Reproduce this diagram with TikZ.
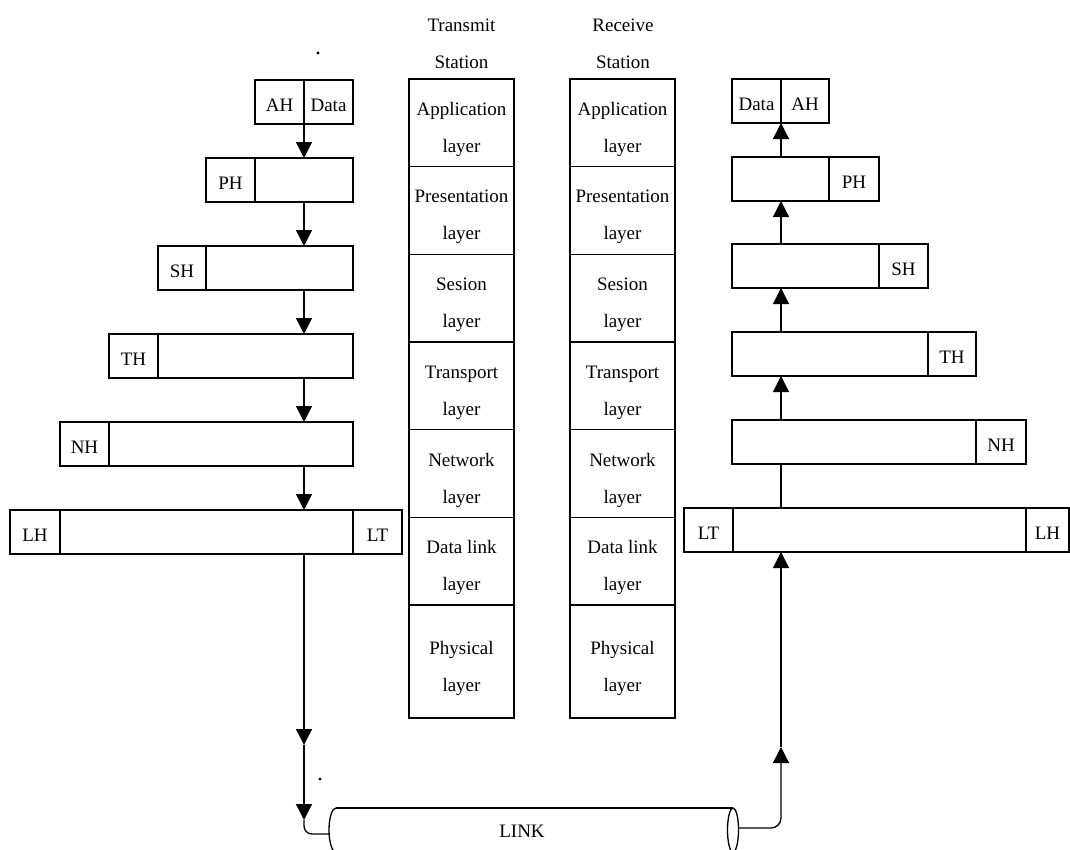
\documentclass[tikz,border=0pt]{standalone}
\usepackage{fontspec}
\setmainfont{Liberation Serif}
\usetikzlibrary{arrows.meta}
\begin{document}
\begin{tikzpicture}[x=1pt,y=-1pt, line width=1.3pt,
  txt/.style={font=\fontsize{19}{37}\selectfont},
  cellbox/.style={draw, txt, anchor=north west, minimum height=44pt, inner sep=0pt, outer sep=0pt, text height=19.6pt, text depth=0pt},
  layerbox/.style={draw, anchor=north west, inner sep=0pt, outer sep=0pt, minimum width=105pt},
  laytext/.style={txt, align=center, inner sep=0pt, yshift=-6.5pt},
  hdr/.style={txt, align=center, inner sep=0pt},
  arr/.style={-{Triangle[width=16pt,length=16pt]}}]
\useasboundingbox (0,0) rectangle (1070,849);
\clip (0,0) rectangle (1070,849);

% ---------- left (transmit) packets ----------
\node[cellbox, minimum width=49pt] (aL1) at (255,80) {AH};
\node[cellbox, minimum width=49pt] (aL2) at (304,80) {Data};
\node[cellbox, minimum width=49pt] (pL1) at (206,158) {PH};
\node[cellbox, minimum width=98pt] (pL2) at (255,158) {};
\node[cellbox, minimum width=48pt] (sL1) at (158,246) {SH};
\node[cellbox, minimum width=147pt] (sL2) at (206,246) {};
\node[cellbox, minimum width=49pt] (tL1) at (109,334) {TH};
\node[cellbox, minimum width=195pt] (tL2) at (158,334) {};
\node[cellbox, minimum width=49pt] (nL1) at (60,422) {NH};
\node[cellbox, minimum width=244pt] (nL2) at (109,422) {};
\node[cellbox, minimum width=50pt] (lL1) at (10,510) {LH};
\node[cellbox, minimum width=293pt] (lL2) at (60,510) {};
\node[cellbox, minimum width=49pt] (lL3) at (353,510) {LT};

% ---------- right (receive) packets ----------
\node[cellbox, minimum width=49pt] (aR1) at (732,79) {Data};
\node[cellbox, minimum width=48pt] (aR2) at (781,79) {AH};
\node[cellbox, minimum width=97pt] (pR1) at (732,157) {};
\node[cellbox, minimum width=50pt] (pR2) at (829,157) {PH};
\node[cellbox, minimum width=147pt] (sR1) at (732,244) {};
\node[cellbox, minimum width=49pt] (sR2) at (879,244) {SH};
\node[cellbox, minimum width=196pt] (tR1) at (732,332) {};
\node[cellbox, minimum width=48pt] (tR2) at (928,332) {TH};
\node[cellbox, minimum width=244pt] (nR1) at (732,420) {};
\node[cellbox, minimum width=50pt] (nR2) at (976,420) {NH};
\node[cellbox, minimum width=49pt] (lR1) at (684,508) {LT};
\node[cellbox, minimum width=293pt] (lR2) at (733,508) {};
\node[cellbox, minimum width=43pt] (lR3) at (1026,508) {LH};

% ---------- station stacks ----------
\node[hdr] (hT) at (461.5,44) {Transmit\\Station};
\node[hdr] (hR) at (623,44) {Receive\\Station};

\foreach \x/\s in {409/T, 570/R}{
  \node[layerbox, minimum height=87.7pt] (app\s) at (\x,79) {};
  \node[laytext] at (app\s.center) {Application\\layer};
  \node[layerbox, minimum height=87.7pt] (pre\s) at (\x,166.7) {};
  \node[laytext] at (pre\s.center) {Presentation\\layer};
  \node[layerbox, minimum height=87.7pt] (ses\s) at (\x,254.3) {};
  \node[laytext] at (ses\s.center) {Sesion\\layer};
  \node[layerbox, minimum height=87.7pt] (tra\s) at (\x,342) {};
  \node[laytext] at (tra\s.center) {Transport\\layer};
  \node[layerbox, minimum height=87.7pt] (net\s) at (\x,429.7) {};
  \node[laytext] at (net\s.center) {Network\\layer};
  \node[layerbox, minimum height=87.7pt] (dat\s) at (\x,517.3) {};
  \node[laytext] at (dat\s.center) {Data link\\layer};
  \node[layerbox, minimum height=113pt] (phy\s) at (\x,605) {};
  \node[laytext] at (phy\s.center) {Physical\\layer};
}

% ---------- link cylinder ----------
\draw (336,808) -- (733,808);
\draw (336,852) -- (733,852);
\draw (336,808) arc[start angle=90, end angle=270, x radius=7pt, y radius=22pt];
\draw (733,830) ellipse[x radius=5.5pt, y radius=22pt];
\node[txt, inner sep=0pt] (link) at (522,831) {LINK};
\coordinate (cylL) at (329.2,834);
\coordinate (cylR) at (738.5,828);

% ---------- connector axes ----------
\coordinate (xl) at (304,0);
\coordinate (xr) at (781,0);
\coordinate (m1) at (304,745);
\coordinate (m2) at (304,820);
\coordinate (m3) at (781,747);

% left chain (down)
\draw[arr] (xl |- aL1.south) -- (xl |- pL2.north);
\draw[arr] (xl |- pL2.south) -- (xl |- sL2.north);
\draw[arr] (xl |- sL2.south) -- (xl |- tL2.north);
\draw[arr] (xl |- tL2.south) -- (xl |- nL2.north);
\draw[arr] (xl |- nL2.south) -- (xl |- lL2.north);
\draw[arr] (xl |- lL2.south) -- (m1);
\draw[arr] (m1) -- (m2);
\draw[rounded corners=8pt] (m2) -- (xl |- cylL) -- (cylL);

% right chain (up)
\draw[arr, rounded corners=10pt] (cylR) -- (xr |- cylR) -- (m3);
\draw[arr] (m3) -- (xr |- lR1.south);
\draw (xr |- lR2.north) -- (xr |- nR1.south);
\draw[arr] (xr |- nR1.north) -- (xr |- tR1.south);
\draw[arr] (xr |- tR1.north) -- (xr |- sR1.south);
\draw[arr] (xr |- sR1.north) -- (xr |- pR1.south);
\draw[arr] (xr |- pR1.north) -- (xr |- aR1.south);

% stray dots
\fill (318,53) circle[radius=1.6pt];
\fill (320,779) circle[radius=1.6pt];
\end{tikzpicture}
\end{document}
